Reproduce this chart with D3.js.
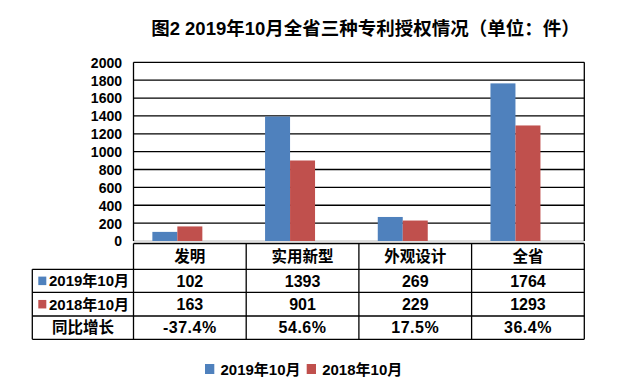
<!DOCTYPE html>
<html><head><meta charset="utf-8">
<script src="https://cdn.jsdelivr.net/npm/d3@7/dist/d3.min.js"></script>
<style>body{margin:0;background:#fff}svg{display:block}text{font-family:"Liberation Sans","Noto Sans CJK SC",sans-serif;font-weight:bold;fill:#000}</style>
</head><body>
<script>
const categories = ["发明", "实用新型", "外观设计", "全省"];
const seriesNames = ["2019年10月", "2018年10月"];
const values2019 = [102, 1393, 269, 1764];
const values2018 = [163, 901, 229, 1293];
const growth = [-37.4, 54.6, 17.5, 36.4];
const growthLabel = "同比增长";
const yTicks = [0, 200, 400, 600, 800, 1000, 1200, 1400, 1600, 1800, 2000];
const colors = ["#4f81bd", "#c0504d"];
const title = "图2 2019年10月全省三种专利授权情况（单位：件）";

const W = 626, H = 385;
const svg = d3.select("body").append("svg").attr("width", W).attr("height", H);

const pLeft = 133.5, pRight = 584.3, pTop = 62.3, pBottom = 241;
const tableLeft = 32.3;
const rowY = [243.5, 269.3, 292.3, 316, 339.3];

const x0 = d3.scaleBand().domain(categories).range([pLeft, pRight]).padding(0);
// three slots per group (third series = 同比增长, drawn as nothing)
const x1 = d3.scaleBand().domain([0, 1, 2]).range([0, x0.bandwidth()]).paddingInner(0).paddingOuter(0.755);
const y = d3.scaleLinear().domain([0, 2000]).range([pBottom, pTop]);

// title
svg.append("text").attr("x", 365.5).attr("y", 35).attr("text-anchor", "middle")
  .style("font-size", "18.5px").text(title);

// gridlines
svg.append("g").selectAll("line").data(yTicks.filter(d => d > 0)).join("line")
  .attr("x1", pLeft).attr("x2", pRight).attr("y1", d => y(d)).attr("y2", d => y(d))
  .attr("stroke", "#000").attr("stroke-width", 1.3);
svg.append("line").attr("x1", pLeft).attr("x2", pRight).attr("y1", y(0)).attr("y2", y(0))
  .attr("stroke", "#bbb").attr("stroke-width", 1);

// axis labels
const yAxis = d3.axisLeft(y).tickValues(yTicks).tickFormat(d3.format("d")).tickSize(0).tickPadding(0);
const ag = svg.append("g").attr("transform", `translate(122,0)`).call(yAxis);
ag.select(".domain").remove();
ag.selectAll("text").style("font-size", "14px").attr("dy", "0.35em")
  .style("font-family", '"Liberation Sans",sans-serif').style("font-weight", "bold").attr("fill", "#000");

// plot frame sides
svg.append("line").attr("x1", pLeft).attr("x2", pLeft).attr("y1", pTop).attr("y2", pBottom).attr("stroke", "#000").attr("stroke-width", 1.3);
svg.append("line").attr("x1", pRight).attr("x2", pRight).attr("y1", pTop).attr("y2", pBottom).attr("stroke", "#000").attr("stroke-width", 1.3);

// bars
const series = [values2019, values2018];
series.forEach((vals, si) => {
  svg.append("g").selectAll("rect").data(vals).join("rect")
    .attr("x", (d, i) => x0(categories[i]) + x1(si))
    .attr("width", x1.bandwidth())
    .attr("y", d => y(d))
    .attr("height", d => y(0) - y(d))
    .attr("fill", colors[si]);
});

// table
const tg = svg.append("g");
const lineAttr = sel => sel.attr("stroke", "#000").attr("stroke-width", 1.3);
tg.append("line").attr("x1", pLeft).attr("x2", pRight).attr("y1", rowY[0]).attr("y2", rowY[0]).call(lineAttr);
rowY.slice(1).forEach(yy => tg.append("line").attr("x1", tableLeft).attr("x2", pRight).attr("y1", yy).attr("y2", yy).call(lineAttr));
tg.append("line").attr("x1", tableLeft).attr("x2", tableLeft).attr("y1", rowY[1]).attr("y2", rowY[4]).call(lineAttr);
categories.forEach(c => tg.append("line").attr("x1", x0(c)).attr("x2", x0(c)).attr("y1", rowY[0]).attr("y2", rowY[4]).call(lineAttr));
tg.append("line").attr("x1", pRight).attr("x2", pRight).attr("y1", rowY[0]).attr("y2", rowY[4]).call(lineAttr);

const cy = i => (rowY[i] + rowY[i + 1]) / 2;
const fs = "15px";
const fn = "16px";
categories.forEach((c, i) => {
  const cx = x0(c) + x0.bandwidth() / 2;
  tg.append("text").attr("x", cx).attr("y", cy(0)).attr("dy", "0.36em").attr("text-anchor", "middle").style("font-size", "15.5px").text(c);
  tg.append("text").attr("x", cx).attr("y", cy(1)).attr("dy", "0.36em").attr("text-anchor", "middle").style("font-size", fn).text(values2019[i]);
  tg.append("text").attr("x", cx).attr("y", cy(2)).attr("dy", "0.36em").attr("text-anchor", "middle").style("font-size", fn).text(values2018[i]);
  tg.append("text").attr("x", cx).attr("y", cy(3)).attr("dy", "0.36em").attr("text-anchor", "middle").style("font-size", fn).style("letter-spacing", "0.5px")
    .text(d3.format(".1f")(growth[i]).replace("−", "-") + "%");
});
seriesNames.forEach((s, si) => {
  tg.append("rect").attr("x", 38.3).attr("y", cy(si + 1) - 4.2).attr("width", 8).attr("height", 8.5).attr("fill", colors[si]);
  tg.append("text").attr("x", 49).attr("y", cy(si + 1)).attr("dy", "0.36em").style("font-size", fs).text(s);
});
tg.append("text").attr("x", (tableLeft + pLeft) / 2).attr("y", cy(3)).attr("dy", "0.36em").attr("text-anchor", "middle").style("font-size", "15.5px").text(growthLabel);

// legend
const lg = svg.append("g");
const legX = [205, 306.7];
seriesNames.forEach((s, si) => {
  lg.append("rect").attr("x", legX[si]).attr("y", 364).attr("width", 9.3).attr("height", 10).attr("fill", colors[si]);
  lg.append("text").attr("x", legX[si] + 15.5).attr("y", 369.5).attr("dy", "0.36em").style("font-size", fs).text(s);
});
</script>
</body></html>
